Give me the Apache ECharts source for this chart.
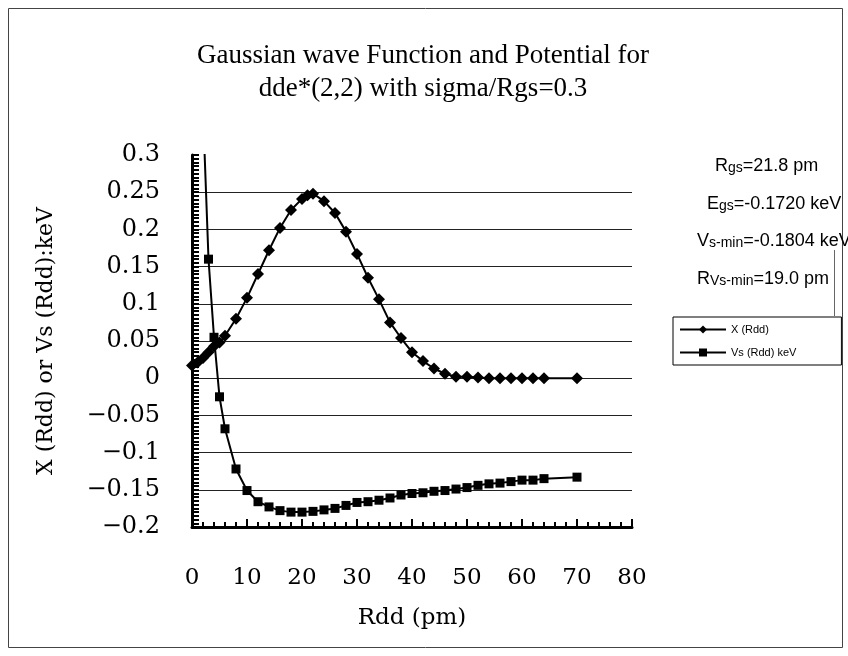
<!DOCTYPE html>
<html><head><meta charset="utf-8">
<script src="https://cdn.jsdelivr.net/npm/echarts@6/dist/echarts.min.js"></script>
<style>html,body{margin:0;padding:0;background:#fff}#c{width:848px;height:656px}</style>
</head><body><div id="c"></div>
<script>
// Data
var titleLines = ['Gaussian wave Function and Potential for', 'dde*(2,2) with sigma/Rgs=0.3'];
var seriesNames = ['X (Rdd)', 'Vs (Rdd) keV'];
var xRdd = [0,1,2,3,4,5,6,8,10,12,14,16,18,20,21,22,24,26,28,30,32,34,36,38,40,42,44,46,48,50,52,54,56,58,60,62,64,70];
var xVals = [0.017,0.021,0.027,0.035,0.043,0.048,0.057,0.080,0.108,0.140,0.172,0.202,0.226,0.241,0.246,0.248,0.238,0.222,0.197,0.167,0.135,0.106,0.075,0.054,0.035,0.023,0.013,0.006,0.002,0.002,0.001,0,0,0,0,0,0,0];
var vRdd = [2,3,4,5,6,8,10,12,14,16,18,20,22,24,26,28,30,32,34,36,38,40,42,44,46,48,50,52,54,56,58,60,62,64,70];
var vVals = [0.36,0.160,0.055,-0.025,-0.068,-0.122,-0.151,-0.166,-0.173,-0.178,-0.180,-0.180,-0.179,-0.177,-0.175,-0.171,-0.167,-0.166,-0.164,-0.161,-0.157,-0.155,-0.154,-0.152,-0.151,-0.149,-0.147,-0.144,-0.142,-0.141,-0.139,-0.137,-0.137,-0.135,-0.133];
var xAxisName = 'Rdd (pm)';
var yAxisName = 'X (Rdd) or Vs (Rdd):keV';

function pairs(xs, ys){ return xs.map(function(x,i){ return [x, ys[i]]; }); }

var chart = echarts.init(document.getElementById('c'), null, {renderer:'canvas'});
var serif = '"DejaVu Serif", "Liberation Serif", serif';
var sans = '"Liberation Sans", Arial, sans-serif';
var big = {fontFamily: sans, fontSize: 18, color: '#000'};
var sub = {fontFamily: sans, fontSize: 14, color: '#000', padding:[4,0,0,0]};

chart.setOption({
  backgroundColor: '#fff',
  animation: false,
  title: {
    text: titleLines.join('\n'),
    left: 418, top: 34, textAlign: 'center',
    textStyle: {fontFamily: '"Liberation Serif", serif', fontWeight: 'normal', fontSize: 27, color: '#000', lineHeight: 33}
  },
  grid: {left: 192, right: 216, top: 155, bottom: 129},
  legend: {
    orient: 'vertical', left: 673, top: 317,
    backgroundColor: '#fff', borderColor: '#000', borderWidth: 1,
    padding: [7, 45, 7, 6], itemGap: 12, itemWidth: 46, itemHeight: 10,
    textStyle: {fontFamily: sans, fontSize: 11, color: '#000'},
    data: seriesNames
  },
  xAxis: {
    type: 'value', min: 0, max: 80, interval: 10,
    name: xAxisName, nameLocation: 'middle', nameGap: 80,
    nameTextStyle: {fontFamily: serif, fontSize: 23, color: '#000'},
    axisLine: {onZero: false, lineStyle: {color: '#000', width: 3}},
    axisTick: {inside: true, length: 8, lineStyle: {color: '#000', width: 2}},
    minorTick: {show: true, splitNumber: 5, length: 5, lineStyle: {color: '#000', width: 2}},
    axisLabel: {margin: 40, fontFamily: serif, fontSize: 23, color: '#000'},
    splitLine: {show: false}
  },
  yAxis: {
    type: 'value', min: -0.2, max: 0.3, interval: 0.05,
    name: yAxisName, nameLocation: 'middle', nameGap: 135, nameRotate: 90,
    nameTextStyle: {fontFamily: serif, fontSize: 22, color: '#000'},
    axisLine: {lineStyle: {color: '#000', width: 3}},
    axisTick: {inside: true, length: 7, lineStyle: {color: '#000', width: 2}},
    minorTick: {show: true, splitNumber: 10, length: 7, lineStyle: {color: '#000', width: 2}},
    axisLabel: {margin: 32, fontFamily: serif, fontSize: 24, color: '#000', showMinLabel: true, showMaxLabel: true,
      formatter: function(v){ var s = String(Math.round(v*100)/100); return s.replace('-', '\u2212'); }},
    splitLine: {show: true, showMaxLine: false, showMinLine: false, lineStyle: {color: '#222', width: 1}}
  },
  series: [
    {name: seriesNames[0], type: 'line', data: pairs(xRdd, xVals),
     symbol: 'diamond', symbolSize: 12, clip: true,
     lineStyle: {color: '#000', width: 2}, itemStyle: {color: '#000'}},
    {name: seriesNames[1], type: 'line', data: pairs(vRdd, vVals),
     symbol: 'rect', symbolSize: 9, clip: true,
     lineStyle: {color: '#000', width: 2}, itemStyle: {color: '#000'}}
  ],
  graphic: [
    {type: 'rect', shape: {x: 8.5, y: 8.5, width: 834, height: 639}, style: {fill: null, stroke: '#444', lineWidth: 1}, z: -1},
    {type: 'line', shape: {x1: 834.5, y1: 250, x2: 834.5, y2: 316}, style: {stroke: '#666', lineWidth: 1}},
    {type: 'text', left: 715, top: 157, style: {text: '{a|R}{b|gs}{a|=21.8 pm}', rich: {a: big, b: sub}}},
    {type: 'text', left: 707, top: 195, style: {text: '{a|E}{b|gs}{a|=-0.1720 keV}', rich: {a: big, b: sub}}},
    {type: 'text', left: 697, top: 232, style: {text: '{a|V}{b|s-min}{a|=-0.1804 keV}', rich: {a: big, b: sub}}},
    {type: 'text', left: 697, top: 270, style: {text: '{a|R}{b|Vs-min}{a|=19.0 pm}', rich: {a: big, b: sub}}}
  ]
});
</script></body></html>
